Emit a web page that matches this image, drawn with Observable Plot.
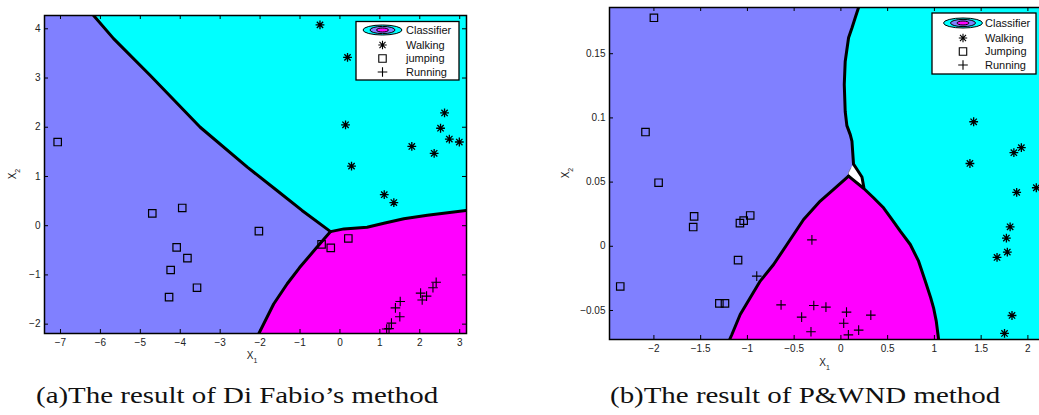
<!DOCTYPE html>
<html><head><meta charset="utf-8">
<script src="https://cdn.jsdelivr.net/npm/d3@7"></script>
<script src="https://cdn.jsdelivr.net/npm/@observablehq/plot@0.6"></script>
<style>
html,body{margin:0;padding:0;background:#fff;overflow:hidden;}
#wrap{position:relative;width:1039px;height:415px;overflow:hidden;}
#wrap svg{position:absolute;top:0;}
</style></head><body><div id="wrap"></div>
<script>
// ---------- data: panel (a) Di Fabio ----------
const walkingA = [[-0.50,4.08],[0.19,3.42],[0.14,2.05],[0.29,1.21],[2.62,2.29],[2.52,1.98],[2.74,1.76],[2.99,1.70],[1.80,1.61],[2.36,1.47],[1.11,0.63],[1.35,0.47]];
const jumpingA = [[-7.07,1.70],[-4.70,0.25],[-3.95,0.36],[-2.03,-0.11],[-4.09,-0.44],[-3.82,-0.66],[-4.24,-0.90],[-3.58,-1.26],[-4.28,-1.45],[-0.46,-0.38],[-0.23,-0.45],[0.21,-0.26]];
const runningA = [[2.41,-1.15],[2.33,-1.26],[2.02,-1.37],[2.17,-1.43],[2.06,-1.51],[1.51,-1.54],[1.39,-1.67],[1.50,-1.85],[1.29,-1.98],[1.23,-2.09],[1.17,-2.10]];
// decision boundaries (a)
const boundA_walkJump = [[-6.17,4.27],[-5.67,3.80],[-4.75,3.05],[-3.50,2.00],[-2.32,1.19],[-1.57,0.71],[-0.95,0.31],[-0.235,-0.12]];
const boundA_walkRun = [[-0.235,-0.12],[0.10,-0.065],[0.68,-0.03],[1.10,0.05],[1.60,0.14],[2.19,0.21],[3.17,0.31]];
const boundA_jumpRun = [[-0.235,-0.12],[-0.61,-0.47],[-1.01,-0.85],[-1.32,-1.18],[-1.66,-1.59],[-2.03,-2.19]];
const xDomainA = [-7.40, 3.17], yDomainA = [-2.19, 4.27];
const xTicksA = [-7,-6,-5,-4,-3,-2,-1,0,1,2,3];
const yTicksA = [-2,-1,0,1,2,3,4];

// ---------- data: panel (b) P&WND ----------
const walkingB = [[1.42,0.097],[1.38,0.0645],[1.85,0.0729],[1.93,0.0768],[2.09,0.0456],[1.88,0.042],[1.81,0.0152],[1.77,0.0064],[1.78,-0.0045],[1.67,-0.0087],[1.83,-0.0539],[1.75,-0.0679]];
const jumpingB = [[-2.0,0.178],[-2.09,0.089],[-1.95,0.0495],[-1.57,0.0233],[-1.58,0.015],[-1.08,0.018],[-1.04,0.020],[-0.97,0.024],[-1.10,-0.0108],[-2.36,-0.0313],[-1.30,-0.0445],[-1.24,-0.0445]];
const runningB = [[-0.31,0.005],[-0.90,-0.0232],[-0.64,-0.0456],[-0.29,-0.0461],[-0.16,-0.0474],[0.06,-0.0513],[0.32,-0.0536],[-0.42,-0.0552],[0.03,-0.0599],[0.19,-0.0653],[-0.32,-0.0666],[0.08,-0.069]];
const boundB_walkJump = [[0.189,0.186],[0.153,0.178],[0.118,0.170],[0.082,0.1625],[0.046,0.144],[0.036,0.126],[0.046,0.105],[0.064,0.094],[0.10,0.087],[0.118,0.082],[0.135,0.064],[0.171,0.060],[0.225,0.054],[0.245,0.046]];
const boundB_walkRun = [[0.082,0.0547],[0.245,0.045],[0.349,0.0378],[0.456,0.030],[0.555,0.020],[0.635,0.0118],[0.742,0.0014],[0.831,-0.0116],[0.902,-0.0271],[0.96,-0.040],[0.991,-0.0479],[1.02,-0.0583],[1.045,-0.0726]];
const boundB_jumpRun = [[0.082,0.0547],[-0.078,0.0443],[-0.221,0.0352],[-0.399,0.0209],[-0.577,0.0014],[-0.72,-0.0142],[-0.863,-0.0271],[-0.970,-0.0401],[-1.077,-0.0531],[-1.166,-0.0687],[-1.19,-0.0726]];
const gapB = [[0.135,0.064],[0.171,0.060],[0.225,0.054],[0.245,0.046],[0.082,0.0547],[0.081,0.0573],[0.107,0.0611]];
const xDomainB = [-2.475, 2.199], yDomainB = [-0.0726, 0.186];
const xTicksB = [-2,-1.5,-1,-0.5,0,0.5,1,1.5,2];
const yTicksB = [-0.05,0,0.05,0.1,0.15];

const legendLabelsA = ["Classifier","Walking","jumping","Running"];
const legendLabelsB = ["Classifier","Walking","Jumping","Running"];
const captionA = "(a)The result of Di Fabio\u2019s method";
const captionB = "(b)The result of P&WND method";

// ---------- drawing ----------
const LAV = "#8080ff", CYAN = "#00ffff", MAG = "#ff00ff";
const SANS = "'Liberation Sans', Arial, sans-serif";
const fmt = d3.format("~g");
const star8 = {draw(ctx, size) {
  const r = Math.sqrt(size / Math.PI), q = r * 0.72;
  ctx.moveTo(-r, 0); ctx.lineTo(r, 0); ctx.moveTo(0, -r); ctx.lineTo(0, r);
  ctx.moveTo(-q, -q); ctx.lineTo(q, q); ctx.moveTo(-q, q); ctx.lineTo(q, -q);
}};
const plusSym = {draw(ctx, size) {
  const r = Math.sqrt(size / Math.PI);
  ctx.moveTo(-r, 0); ctx.lineTo(r, 0); ctx.moveTo(0, -r); ctx.lineTo(0, r);
}};
const pts = arr => arr.map(([x, y]) => ({x, y}));
const xy = {x: "x", y: "y"};
const TL = 4; // inward tick length (px)

function panel(o) {
  const [x0, x1] = o.xDomain, [y0, y1] = o.yDomain;
  const fw = o.width - o.ml - o.mr, fh = o.height - o.mt - o.mb;
  const cyan = [...o.bWJ, ...o.bWR.slice(1), [x1, y0], [x1, y1]];
  const magenta = [...o.bWR, ...(o.magCorner ? [[x1, y0]] : []), ...o.bJR.slice().reverse()];
  const marks = [
    Plot.frame({fill: LAV}),
    Plot.line(pts(cyan), {...xy, fill: CYAN, stroke: "none", clip: true}),
    Plot.line(pts(magenta), {...xy, fill: MAG, stroke: "none", clip: true}),
  ];
  if (o.gap) marks.push(Plot.line(pts(o.gap), {...xy, fill: "white", stroke: "#555", strokeWidth: 0.6, clip: true}));
  for (const b of [o.bWJ, o.bWR, o.bJR])
    marks.push(Plot.line(pts(b), {...xy, stroke: "black", strokeWidth: 3, strokeLinejoin: "round", clip: true}));
  marks.push(
    Plot.dot(pts(o.walking), {...xy, symbol: star8, r: 4.4, stroke: "black", fill: "none", strokeWidth: 1.3}),
    Plot.dot(pts(o.jumping), {...xy, symbol: "square", r: 4.2, stroke: "black", fill: "none", strokeWidth: 1.2}),
    Plot.dot(pts(o.running), {...xy, symbol: plusSym, r: 4.8, stroke: "black", fill: "none", strokeWidth: 1.1}),
    // inward ticks on all four sides
    Plot.tickX(o.xTicks, {x: d => d, insetTop: fh - TL, stroke: "black", strokeWidth: 1}),
    Plot.tickX(o.xTicks, {x: d => d, insetBottom: fh - TL, stroke: "black", strokeWidth: 1}),
    Plot.tickY(o.yTicks, {y: d => d, insetRight: fw - TL, stroke: "black", strokeWidth: 1}),
    Plot.tickY(o.yTicks, {y: d => d, insetLeft: fw - TL, stroke: "black", strokeWidth: 1}),
    Plot.frame({stroke: "black", strokeWidth: 1.5}),
    Plot.axisX({ticks: o.xTicks, anchor: "bottom", tickSize: 0, tickPadding: 5, tickFormat: fmt, label: null}),
    Plot.axisY({ticks: o.yTicks, anchor: "left", tickSize: 0, tickPadding: 4, tickFormat: fmt, label: null})
  );
  const svg = Plot.plot({
    width: o.width, height: o.height,
    marginLeft: o.ml, marginRight: o.mr, marginTop: o.mt, marginBottom: o.mb,
    x: {domain: o.xDomain}, y: {domain: o.yDomain},
    style: {fontFamily: SANS, fontSize: "10px", color: "#222", background: "transparent", overflow: "visible"},
    marks
  });
  svg.style.left = o.left + "px";
  document.getElementById("wrap").appendChild(svg);
  const s = d3.select(svg);
  // axis titles with subscripts
  const fx = (o.ml + o.width - o.mr) / 2, fy = (o.mt + o.height - o.mb) / 2;
  const tx = s.append("text").attr("x", fx - 3).attr("y", o.xLabelY).attr("font-family", SANS).attr("font-size", 10).attr("fill", "#222").attr("text-anchor", "middle");
  tx.append("tspan").text("X"); tx.append("tspan").attr("dy", 4).attr("font-size", 7).text("1");
  const ty = s.append("text").attr("transform", `translate(${o.yLabelX},${fy}) rotate(-90)`).attr("font-family", SANS).attr("font-size", 10).attr("fill", "#222").attr("text-anchor", "middle");
  ty.append("tspan").text("X"); ty.append("tspan").attr("dy", 4).attr("font-size", 7).text("2");
  // legend
  const L = o.legend;
  const g = s.append("g").attr("transform", `translate(${L.x},${L.y})`);
  g.append("rect").attr("width", L.w).attr("height", L.h).attr("fill", "white").attr("stroke", "black").attr("stroke-width", 1.3);
  const ic = L.icon;
  const e = g.append("g").attr("transform", `translate(${ic},${L.rows[0]})`);
  [[19.5, 5, CYAN], [12.5, 3.6, LAV], [6, 2, MAG]].forEach(([rx, ry, c]) =>
    e.append("ellipse").attr("rx", rx).attr("ry", ry).attr("fill", c).attr("stroke", "black").attr("stroke-width", 1));
  const syms = [null, [star8, 4.2], [d3.symbolSquare, 4.2], [plusSym, 4.8]];
  L.labels.forEach((lab, i) => {
    if (syms[i]) g.append("path").attr("transform", `translate(${ic},${L.rows[i]})`)
      .attr("d", d3.symbol(syms[i][0], Math.PI * syms[i][1] ** 2)()).attr("fill", "none").attr("stroke", "black").attr("stroke-width", 1.1);
    g.append("text").attr("x", L.tx).attr("y", L.rows[i]).attr("dy", "0.35em").attr("text-anchor", "start")
      .attr("font-family", SANS).attr("font-size", 11).attr("fill", "#111").text(lab);
  });
}

panel({left: 0, width: 480, height: 370, ml: 44, mr: 14, mt: 15, mb: 37,
  xDomain: xDomainA, yDomain: yDomainA, xTicks: xTicksA, yTicks: yTicksA,
  walking: walkingA, jumping: jumpingA, running: runningA,
  bWJ: boundA_walkJump, bWR: boundA_walkRun, bJR: boundA_jumpRun, magCorner: true,
  xLabelY: 359, yLabelX: 16,
  legend: {x: 356, y: 21.5, w: 103, h: 58.5, icon: 26.5, tx: 50, rows: [8.5, 23.5, 37, 50.5], labels: legendLabelsA}});

panel({left: 560, width: 496, height: 370, ml: 49, mr: 10, mt: 7, mb: 31,
  xDomain: xDomainB, yDomain: yDomainB, xTicks: xTicksB, yTicks: yTicksB,
  walking: walkingB, jumping: jumpingB, running: runningB,
  bWJ: boundB_walkJump, bWR: boundB_walkRun, bJR: boundB_jumpRun, gap: gapB, magCorner: false,
  xLabelY: 366, yLabelX: 9,
  legend: {x: 372, y: 13, w: 104, h: 61, icon: 31, tx: 53, rows: [10, 25, 38.5, 52], labels: legendLabelsB}});

// captions
const cap = d3.select("#wrap").append("svg").attr("width", 1039).attr("height", 415).style("left", "0px").style("pointer-events", "none");
[[36, captionA], [610, captionB]].forEach(([x, t]) =>
  cap.append("text").attr("transform", `translate(${x},403) scale(1.205,1)`).attr("font-family", "'Liberation Serif', 'Times New Roman', serif").attr("font-size", 24).attr("fill", "#111").text(t));
</script></body></html>
